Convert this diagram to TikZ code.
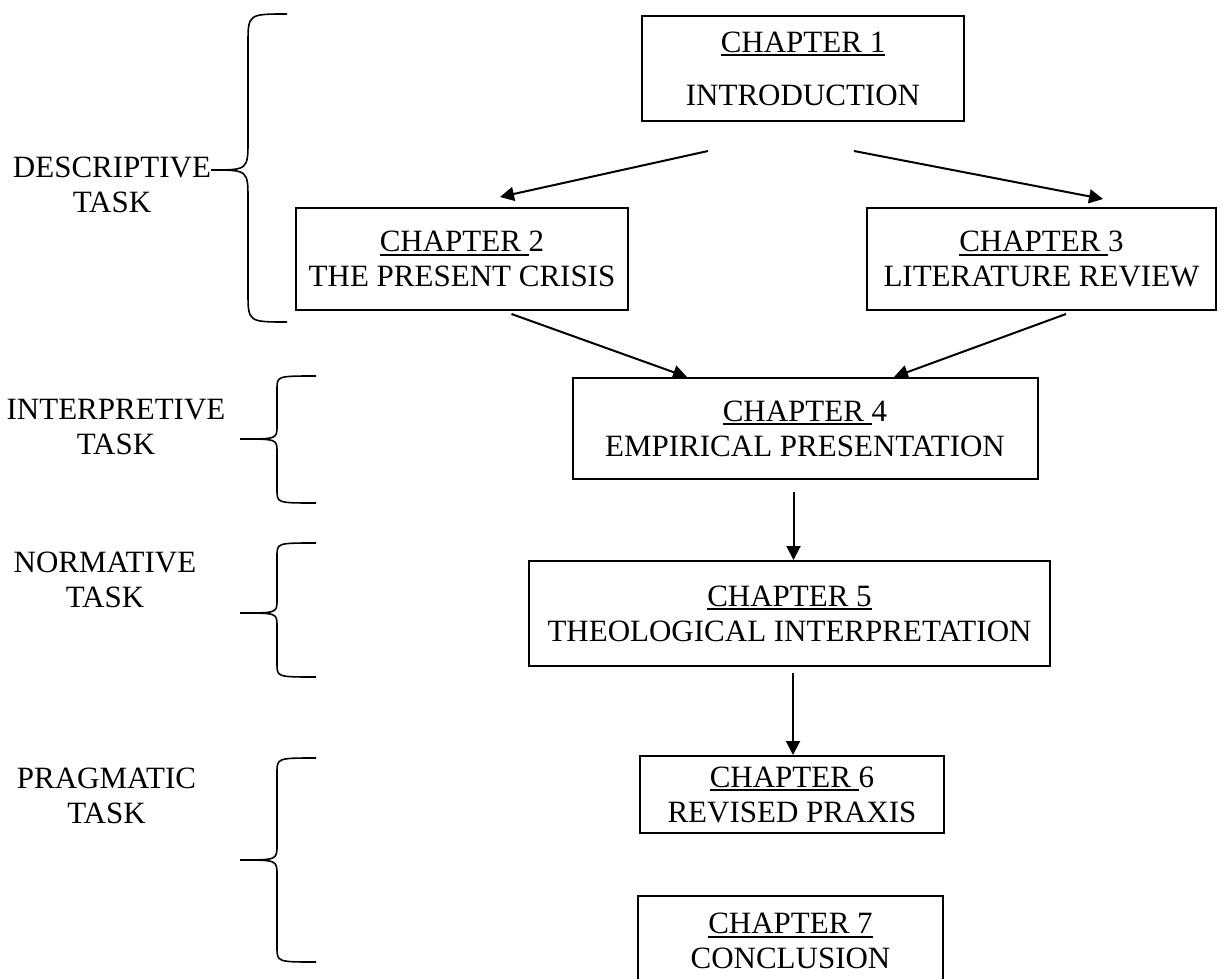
\documentclass[tikz,border=0pt]{standalone}
\usepackage{fontspec}
\setmainfont{Liberation Serif}
\usetikzlibrary{arrows.meta,calc}

\newcommand{\chapul}[1]{\setbox0=\hbox{#1}\rlap{\rule[-4pt]{\wd0}{2pt}}\box0\relax}
\tikzset{
	chapbox/.style = {draw, line width=2pt, inner sep=0pt, align=center},
	arr/.style = {line width=2pt, -{Triangle[length=14pt,width=14pt]}},
	bracepath/.style = {line width=1.6pt},
}

\begin{document}
\begin{tikzpicture}[x=1pt, y=-1pt, font=\fontsize{31}{35}\selectfont]
	\clip (0,0) rectangle (1223,979);
	\node[chapbox, minimum width=322pt, minimum height=105pt] (ch1) at (803,68.5) {\chapul{CHAPTER 1}\\[18pt]INTRODUCTION};
	\node[chapbox, minimum width=332pt, minimum height=102pt] (ch2) at (462,259) {\chapul{CHAPTER }2\\THE PRESENT CRISIS};
	\node[chapbox, minimum width=349pt, minimum height=102pt] (ch3) at (1041.5,259) {\chapul{CHAPTER }3\\LITERATURE REVIEW};
	\node[chapbox, minimum width=465pt, minimum height=101pt] (ch4) at (805,428.5) {\chapul{CHAPTER }4\\EMPIRICAL PRESENTATION};
	\node[chapbox, minimum width=521pt, minimum height=105pt] (ch5) at (789.5,613.5) {\chapul{CHAPTER 5}\\THEOLOGICAL INTERPRETATION};
	\node[chapbox, minimum width=304pt, minimum height=77pt] (ch6) at (792,794.5) {\chapul{CHAPTER }6\\REVISED PRAXIS};
	\node[chapbox, minimum width=305pt, minimum height=90pt] (ch7) at (790.5,941) {\chapul{CHAPTER 7}\\CONCLUSION};

	\draw[arr] ($(ch1.south)+(-95,29)$) -- ($(ch2.north)+(38,-10)$);
	\draw[arr] ($(ch1.south)+(51,29)$) -- ($(ch3.north)+(61.5,-8)$);
	\draw[arr] ($(ch2.south)+(49.5,3)$) -- ($(ch4.north)+(-118,0)$);
	\draw[arr] ($(ch3.south)+(24.5,3)$) -- ($(ch4.north)+(89,0)$);
	\draw[arr] ($(ch4.south)+(-11.5,12)$) -- ($(ch5.north)+(4,0)$);
	\draw[arr] ($(ch5.south)+(3.5,6)$) -- ($(ch6.north)+(1,0)$);

	\node[align=center] (desc) at (112,185) {DESCRIPTIVE\\TASK};
	\node[align=center] (interp) at (116,427) {INTERPRETIVE\\TASK};
	\node[align=center] (norm) at (105,580) {NORMATIVE\\TASK};
	\node[align=center] (prag) at (106.5,796) {PRAGMATIC\\TASK};

	\foreach \xv/\dx/\yt/\ym/\yb/\r in {248/37/14/170/322/30, 277/37/376/439/503/13, 277/37/543/613/677/13, 277/37/758/860/962/15}
		\draw[bracepath] (\xv+39,\yt) .. controls (\xv,\yt) .. (\xv,\yt+\r) -- (\xv,\ym-\r)
			.. controls (\xv,\ym) .. (\xv-\dx,\ym) .. controls (\xv,\ym) .. (\xv,\ym+\r)
			-- (\xv,\yb-\r) .. controls (\xv,\yb) .. (\xv+39,\yb);
\end{tikzpicture}
\end{document}
